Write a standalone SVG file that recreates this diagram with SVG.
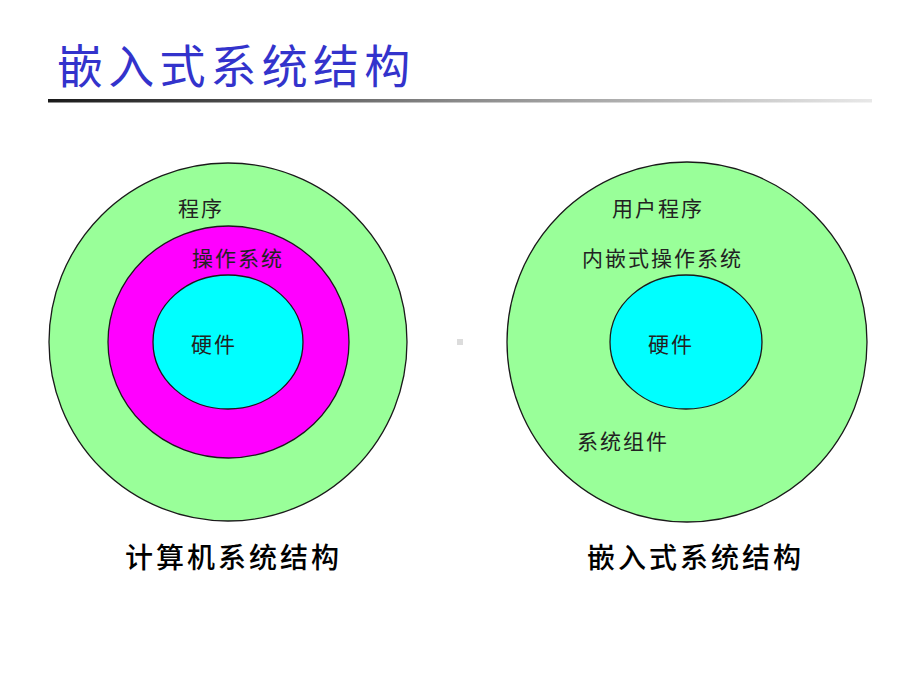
<svg xmlns="http://www.w3.org/2000/svg" width="920" height="690" viewBox="0 0 920 690">
<defs>
<linearGradient id="rule" x1="0" y1="0" x2="1" y2="0">
<stop offset="0" stop-color="#1a1a1a"/>
<stop offset="0.5" stop-color="#8a8a8a"/>
<stop offset="1" stop-color="#e8e8e8"/>
</linearGradient>
<style>
.ring{stroke:#1a1a1a;stroke-width:1.3}
.green{fill:#99ff99}
.mag{fill:#ff00ff}
.cyan{fill:#00ffff}
.lbl{font-family:"Noto Sans CJK SC","Noto Sans",sans-serif;font-size:21px;fill:#222;letter-spacing:2px}
.cap{font-family:"Noto Sans CJK SC","Noto Sans",sans-serif;font-size:28px;fill:#000;font-weight:500;letter-spacing:3px}
.title{font-family:"Noto Sans CJK SC","Noto Sans",sans-serif;font-size:46px;fill:#3333cc;letter-spacing:5.2px}
</style>
</defs>
<rect width="920" height="690" fill="#fff"/>
<g id="title">
<text class="title" x="57" y="83">嵌入式系统结构</text>
<rect x="48" y="99" width="824" height="3.5" fill="url(#rule)"/>
</g>
<g id="computer-structure">
<circle class="ring green" cx="228" cy="342" r="179"/>
<ellipse class="ring mag" cx="228.5" cy="342" rx="120.5" ry="116"/>
<ellipse class="ring cyan" cx="228" cy="342" rx="75" ry="67"/>
<text class="lbl" x="178" y="216">程序</text>
<text class="lbl" x="192" y="266">操作系统</text>
<text class="lbl" x="191" y="352">硬件</text>
<text class="cap" x="125" y="568">计算机系统结构</text>
</g>
<g id="embedded-structure">
<circle class="ring green" cx="687" cy="342" r="180"/>
<ellipse class="ring cyan" cx="686" cy="342" rx="76" ry="67"/>
<text class="lbl" x="612" y="216">用户程序</text>
<text class="lbl" x="582" y="266">内嵌式操作系统</text>
<text class="lbl" x="648" y="352">硬件</text>
<text class="lbl" x="577" y="449">系统组件</text>
<text class="cap" x="587" y="568">嵌入式系统结构</text>
</g>
<rect x="457" y="339" width="6" height="6" fill="#dcdcdc"/>
</svg>
